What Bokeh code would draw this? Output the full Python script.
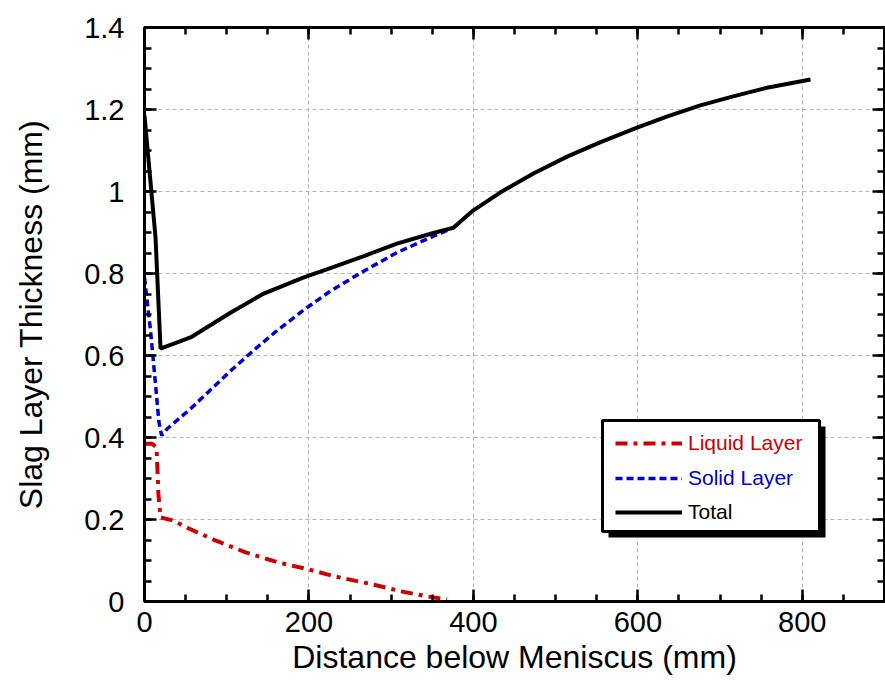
from bokeh.plotting import figure
from bokeh.models import (Range1d, FixedTicker, LinearAxis, CustomJSTickFormatter,
                          Legend, LegendItem, BoxAnnotation)
from bokeh.embed import file_html
from bokeh.resources import INLINE

FONT = "Liberation Sans"

# ---- data ----
liquid_x = [0, 9, 14.6, 17, 19.5, 34, 54, 86, 123, 163, 200, 232, 272, 314, 345, 368]
liquid_y = [0.385, 0.385, 0.376, 0.26, 0.205, 0.198, 0.178, 0.149, 0.12, 0.095,
            0.078, 0.061, 0.044, 0.024, 0.012, 0.005]

solid_x = [0, 7.3, 13.4, 17.4, 19.5, 21, 28, 56, 77, 105, 137, 162, 193, 226, 266, 307, 348, 376]
solid_y = [0.79, 0.661, 0.53, 0.44, 0.417, 0.405, 0.422, 0.47, 0.51, 0.563, 0.620, 0.662,
           0.710, 0.757, 0.805, 0.851, 0.888, 0.912]

total_x = [0, 13.4, 19.5, 56, 105, 145, 193, 226, 266, 307, 348, 376, 400, 433, 473,
           514, 554, 599, 636, 676, 716, 757, 810]
total_y = [1.185, 0.888, 0.617, 0.644, 0.705, 0.751, 0.790, 0.813, 0.842, 0.873, 0.897,
           0.912, 0.954, 0.998, 1.044, 1.085, 1.120, 1.156, 1.183, 1.210, 1.232, 1.253, 1.273]

series_names = ["Liquid Layer", "Solid Layer", "Total"]
series_colors = ["#cc0000", "#0000cc", "#000000"]

x_major_ticks = [0, 200, 400, 600, 800]
x_minor_ticks = [0, 50, 100, 150, 200, 250, 300, 350, 400, 450, 500, 550, 600, 650,
                 700, 750, 800, 850, 900]
y_major_ticks = [0, 0.2, 0.4, 0.6, 0.8, 1, 1.2, 1.4]
y_minor_ticks = [0, 0.05, 0.1, 0.15, 0.2, 0.25, 0.3, 0.35, 0.4, 0.45, 0.5, 0.55, 0.6,
                 0.65, 0.7, 0.75, 0.8, 0.85, 0.9, 0.95, 1, 1.05, 1.1, 1.15, 1.2, 1.25,
                 1.3, 1.35, 1.4]

# ---- layout constants (pixels) ----
W, H = 885, 690
L, R, T, B = 144, 1, 27, 89
FW, FH = W - L - R, H - T - B
X0, X1, Y0, Y1 = 0, 900, 0, 1.4


def px_x(px):
    return X0 + (px - L) * (X1 - X0) / FW


def py_y(py):
    return Y0 + (T + FH - py) * (Y1 - Y0) / FH


p = figure(width=W, height=H, x_range=Range1d(X0, X1), y_range=Range1d(Y0, Y1),
           output_backend="svg", toolbar_location=None,
           min_border_left=L, min_border_right=R, min_border_top=T, min_border_bottom=B,
           x_axis_label="Distance below Meniscus (mm)",
           y_axis_label="Slag Layer Thickness (mm)")
p.background_fill_color = "white"
p.border_fill_color = "white"
p.outline_line_color = "black"
p.outline_line_width = 3

xt = FixedTicker(ticks=x_major_ticks, minor_ticks=x_minor_ticks)
yt = FixedTicker(ticks=y_major_ticks, minor_ticks=y_minor_ticks)
yfmt = CustomJSTickFormatter(code="return String(parseFloat(tick.toFixed(2)));")


def style_axis(ax, labels=True):
    ax.axis_line_color = "black"
    ax.axis_line_width = 3
    ax.major_tick_in = 12
    ax.major_tick_out = 0
    ax.minor_tick_in = 7
    ax.minor_tick_out = 0
    ax.major_tick_line_width = 2.5
    ax.minor_tick_line_width = 2.5
    ax.major_tick_line_color = "black"
    ax.minor_tick_line_color = "black"
    ax.major_label_text_font = FONT
    ax.major_label_text_color = "black"
    ax.major_label_text_font_size = "29px"
    ax.axis_label_text_font = FONT
    ax.axis_label_text_font_style = "normal"
    ax.axis_label_text_font_size = "32px"
    ax.axis_label_text_color = "black"
    if not labels:
        ax.formatter = CustomJSTickFormatter(code="return '';")
        ax.major_label_standoff = 0


xa = p.xaxis[0]
xa.ticker = xt
style_axis(xa)
xa.major_label_standoff = 10
xa.axis_label_standoff = 4

ya = p.yaxis[0]
ya.ticker = yt
ya.formatter = yfmt
style_axis(ya)
ya.major_label_standoff = 20
ya.axis_label_standoff = 32

top_ax = LinearAxis(ticker=xt)
style_axis(top_ax, labels=False)
p.add_layout(top_ax, "above")
right_ax = LinearAxis(ticker=yt)
style_axis(right_ax, labels=False)
p.add_layout(right_ax, "right")

for g in (p.xgrid[0], p.ygrid[0]):
    g.grid_line_color = "#b4b4b4"
    g.grid_line_width = 1
    g.grid_line_dash = "4 3"
p.xgrid[0].ticker = xt
p.ygrid[0].ticker = yt

r_liq = p.line(liquid_x, liquid_y, line_color=series_colors[0], line_width=4,
               line_dash="12 6 4 6")
r_sol = p.line(solid_x, solid_y, line_color=series_colors[1], line_width=3.5,
               line_dash="7 4")
r_tot = p.line(total_x, total_y, line_color=series_colors[2], line_width=4)

# legend box with shadow
box_l, box_r, box_t, box_b = 602, 819, 420, 531
shadow = BoxAnnotation(left=px_x(box_l + 6), right=px_x(box_r + 6),
                       top=py_y(box_t + 6), bottom=py_y(box_b + 6),
                       fill_color="black", fill_alpha=1, line_color=None)
frame_box = BoxAnnotation(left=px_x(box_l), right=px_x(box_r),
                          top=py_y(box_t), bottom=py_y(box_b),
                          fill_color="white", fill_alpha=1,
                          line_color="black", line_width=3, line_alpha=1)
p.add_layout(shadow)
p.add_layout(frame_box)

row_centers = [443, 478, 512]
row_h = 24
for name, color, rend, cy in zip(series_names, series_colors, [r_liq, r_sol, r_tot], row_centers):
    leg = Legend(items=[LegendItem(label=name, renderers=[rend])],
                 location=(615 - L, (T + FH) - (cy + row_h / 2)),
                 orientation="vertical", padding=0, margin=0, spacing=0,
                 glyph_width=67, glyph_height=row_h, label_height=row_h,
                 label_standoff=6, label_width=120,
                 label_text_font=FONT, label_text_font_size="21px",
                 label_text_color=color,
                 background_fill_alpha=0, border_line_color=None)
    p.add_layout(leg)

open("out.html", "w").write(file_html(p, INLINE))
